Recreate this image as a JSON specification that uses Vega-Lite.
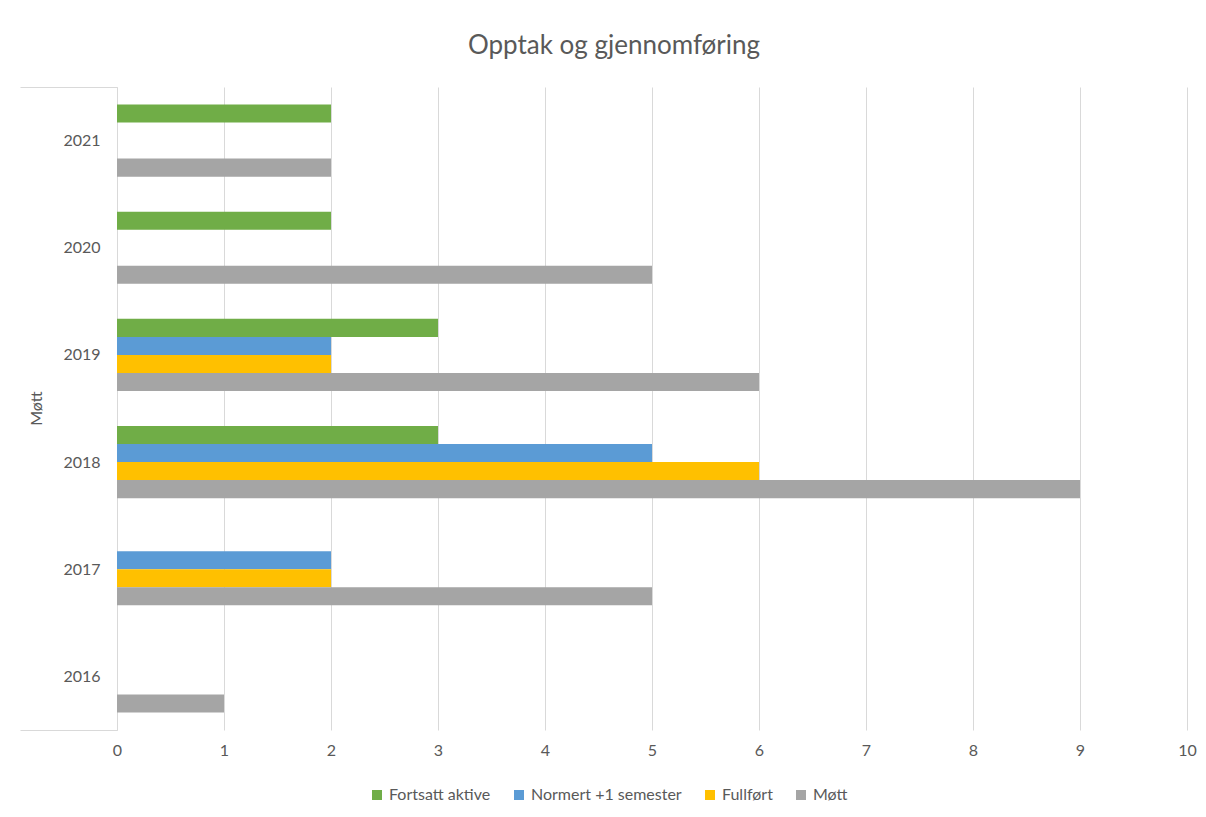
{
  "$schema": "https://vega.github.io/schema/vega-lite/v6.json",
  "width": 1070,
  "height": 643,
  "autosize": {"type": "none"},
  "padding": {"left": 117, "top": 87, "right": 19, "bottom": 87},
  "background": "white",
  "title": {
    "text": "Opptak og gjennomføring",
    "font": "Lato",
    "fontSize": 26,
    "fontWeight": "normal",
    "color": "#595959",
    "anchor": "middle",
    "frame": "group",
    "dx": -38,
    "offset": 20
  },
  "data": {
    "values": [
      {"year": "2021", "series": "Fortsatt aktive", "value": 2},
      {"year": "2021", "series": "Møtt", "value": 2},
      {"year": "2020", "series": "Fortsatt aktive", "value": 2},
      {"year": "2020", "series": "Møtt", "value": 5},
      {"year": "2019", "series": "Fortsatt aktive", "value": 3},
      {"year": "2019", "series": "Normert +1 semester", "value": 2},
      {"year": "2019", "series": "Fullført", "value": 2},
      {"year": "2019", "series": "Møtt", "value": 6},
      {"year": "2018", "series": "Fortsatt aktive", "value": 3},
      {"year": "2018", "series": "Normert +1 semester", "value": 5},
      {"year": "2018", "series": "Fullført", "value": 6},
      {"year": "2018", "series": "Møtt", "value": 9},
      {"year": "2017", "series": "Normert +1 semester", "value": 2},
      {"year": "2017", "series": "Fullført", "value": 2},
      {"year": "2017", "series": "Møtt", "value": 5},
      {"year": "2016", "series": "Møtt", "value": 1}
    ]
  },
  "mark": {"type": "bar"},
  "encoding": {
    "y": {
      "field": "year",
      "type": "nominal",
      "sort": ["2021", "2020", "2019", "2018", "2017", "2016"],
      "scale": {"paddingInner": 0, "paddingOuter": 0},
      "axis": {
        "title": "Møtt",
        "titleFont": "Lato",
        "titleFontSize": 16,
        "titleFontWeight": "normal",
        "titleColor": "#595959",
        "titleAngle": -90,
        "titleX": -81,
        "titleY": 321,
        "titleAlign": "center",
        "titleBaseline": "middle",
        "labelFont": "Lato",
        "labelFontSize": 16,
        "labelColor": "#595959",
        "labelPadding": -80,
        "tickBand": "extent",
        "ticks": true,
        "tickSize": 97,
        "tickWidth": 1,
        "tickColor": {"condition": {"test": "datum.value == '2016' || datum.extra", "value": "#D9D9D9"}, "value": "transparent"},
        "domain": true,
        "domainColor": "#D9D9D9",
        "domainWidth": 1,
        "grid": false
      }
    },
    "yOffset": {
      "field": "series",
      "type": "nominal",
      "sort": ["Fortsatt aktive", "Normert +1 semester", "Fullført", "Møtt"],
      "scale": {"paddingInner": 0, "paddingOuter": 0.97}
    },
    "x": {
      "field": "value",
      "type": "quantitative",
      "scale": {"domain": [0, 10], "nice": false},
      "axis": {
        "title": null,
        "values": [0, 1, 2, 3, 4, 5, 6, 7, 8, 9, 10],
        "format": "d",
        "labelFont": "Lato",
        "labelFontSize": 16,
        "labelColor": "#595959",
        "labelPadding": 12,
        "labelOverlap": false,
        "labelFlush": false,
        "ticks": false,
        "domain": false,
        "grid": true,
        "gridColor": "#D9D9D9",
        "gridWidth": 1
      }
    },
    "color": {
      "field": "series",
      "type": "nominal",
      "sort": ["Fortsatt aktive", "Normert +1 semester", "Fullført", "Møtt"],
      "scale": {
        "domain": ["Fortsatt aktive", "Normert +1 semester", "Fullført", "Møtt"],
        "range": ["#70AD47", "#5B9BD5", "#FFC000", "#A5A5A5"]
      },
      "legend": {
        "title": null,
        "orient": "none",
        "direction": "horizontal",
        "legendX": 252,
        "legendY": 700,
        "symbolType": "square",
        "symbolSize": 100,
        "symbolStrokeWidth": 0,
        "labelFont": "Lato",
        "labelFontSize": 16,
        "labelColor": "#595959",
        "labelOffset": 4,
        "columnPadding": 20
      }
    }
  },
  "config": {
    "view": {"stroke": null}
  }
}
